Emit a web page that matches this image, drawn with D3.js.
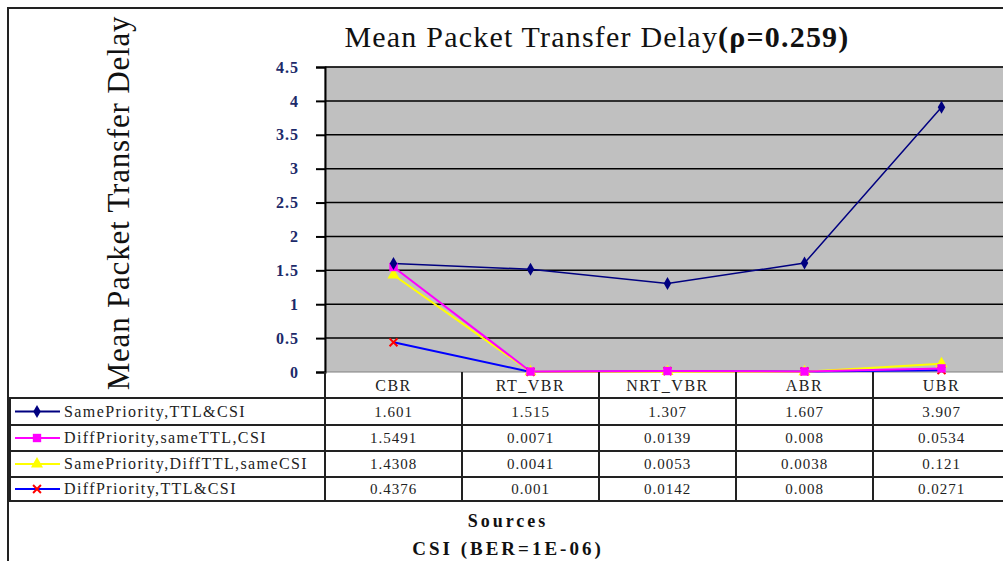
<!DOCTYPE html>
<html>
<head>
<meta charset="utf-8">
<script src="https://cdn.jsdelivr.net/npm/d3@7"></script>
<style>
  body { margin: 0; background: #fff; }
  svg text { font-family: "Liberation Serif", "Times New Roman", serif; }
</style>
</head>
<body>
<div id="chart-area"></div>
<script>
// data
var categories = ["CBR", "RT_VBR", "NRT_VBR", "ABR", "UBR"];
var seriesNames = ["SamePriority,TTL&CSI", "DiffPriority,sameTTL,CSI", "SamePriority,DiffTTL,sameCSI", "DiffPriority,TTL&CSI"];
var sameAll   = [1.601, 1.515, 1.307, 1.607, 3.907];
var diffPrio  = [1.5491, 0.0071, 0.0139, 0.008, 0.0534];
var diffTTL   = [1.4308, 0.0041, 0.0053, 0.0038, 0.121];
var diffAll   = [0.4376, 0.001, 0.0142, 0.008, 0.0271];
var yTicks = [0, 0.5, 1, 1.5, 2, 2.5, 3, 3.5, 4, 4.5];

var seriesValues = [sameAll, diffPrio, diffTTL, diffAll];
var lineColors = ["#000080", "#ff00ff", "#ffff00", "#0000ff"];
var markColors = ["#000080", "#ff00ff", "#ffff00", "#ff0000"];
var markTypes = ["diamond", "square", "triangle", "x"];

var width = 1003, height = 561;
var plot = { left: 325, right: 1010, top: 67, bottom: 372 };
var rowH = [398, 425, 451, 477, 501];

var svg = d3.select("#chart-area")
  .append("svg")
    .attr("width", width)
    .attr("height", height);

var x = d3.scaleBand()
  .domain(categories)
  .range([plot.left, plot.right]);

var y = d3.scaleLinear()
  .domain([0, 4.5])
  .range([plot.bottom, plot.top]);

// outer chart frame
svg.append("rect")
  .attr("x", 8).attr("y", 8)
  .attr("width", 1010).attr("height", 570)
  .attr("fill", "#fff")
  .attr("stroke", "#222").attr("stroke-width", 2);

// plot area
svg.append("rect")
  .attr("x", plot.left).attr("y", plot.top)
  .attr("width", plot.right - plot.left).attr("height", plot.bottom - plot.top)
  .attr("fill", "#c0c0c0")
  .attr("stroke", "#808080").attr("stroke-width", 1);

// gridlines
svg.append("g")
  .selectAll("line")
  .data(yTicks.filter(d => d > 0))
  .join("line")
    .attr("x1", plot.left).attr("x2", plot.right)
    .attr("y1", d => y(d)).attr("y2", d => y(d))
    .attr("stroke", "#000").attr("stroke-width", 1.5);

// y axis
var yAxis = svg.append("g")
  .attr("transform", "translate(" + plot.left + ",0)")
  .call(d3.axisLeft(y).tickValues(yTicks).tickSize(9).tickPadding(17).tickFormat(d3.format("")));
yAxis.select(".domain").attr("stroke", "#000").attr("stroke-width", 2);
yAxis.selectAll(".tick line").attr("stroke", "#000").attr("stroke-width", 2);
yAxis.selectAll(".tick text")
  .attr("font-size", 16)
  .attr("font-weight", "bold")
  .attr("letter-spacing", 1)
  .attr("fill", "#1c2a6a")
  .style("font-family", "'Liberation Serif', serif");

// lines
var line = d3.line()
  .x((d, i) => x(categories[i]) + x.bandwidth() / 2)
  .y(d => y(d));

var drawOrder = [3, 2, 1, 0];
drawOrder.forEach(function(s) {
  svg.append("path")
    .datum(seriesValues[s])
    .attr("fill", "none")
    .attr("stroke", lineColors[s])
    .attr("stroke-width", s === 0 ? 1.5 : 2)
    .attr("d", line);
});

function marker(g, type, color, size) {
  if (type === "diamond") {
    g.append("path").attr("d", d3.symbol(d3.symbolDiamond, size * 7)()).attr("fill", color);
  } else if (type === "square") {
    g.append("path").attr("d", d3.symbol(d3.symbolSquare, size * 10)()).attr("fill", color);
  } else if (type === "triangle") {
    g.append("path").attr("d", d3.symbol(d3.symbolTriangle, size * 9)()).attr("fill", color);
  } else {
    g.append("path").attr("d", d3.symbol(d3.symbolTimes, size * 6)())
      .attr("fill", "none").attr("stroke", color).attr("stroke-width", 2);
  }
}

drawOrder.forEach(function(s) {
  seriesValues[s].forEach(function(v, i) {
    var g = svg.append("g")
      .attr("transform", "translate(" + (x(categories[i]) + x.bandwidth() / 2) + "," + y(v) + ")");
    marker(g, markTypes[s], markColors[s], 7);
  });
});

// data table
var table = svg.append("g");
rowH.forEach(function(yy) {
  table.append("line")
    .attr("x1", 8).attr("x2", width)
    .attr("y1", yy).attr("y2", yy)
    .attr("stroke", "#222").attr("stroke-width", 2);
});
// column dividers
table.selectAll("line.col")
  .data(categories)
  .join("line")
    .attr("class", "col")
    .attr("x1", d => x(d)).attr("x2", d => x(d))
    .attr("y1", plot.bottom).attr("y2", rowH[4])
    .attr("stroke", "#222").attr("stroke-width", 2);
table.append("line")
  .attr("x1", 10).attr("x2", 10)
  .attr("y1", rowH[0]).attr("y2", rowH[4])
  .attr("stroke", "#222").attr("stroke-width", 2);

// category headers
table.selectAll("text.cat")
  .data(categories)
  .join("text")
    .attr("class", "cat")
    .attr("x", d => x(d) + x.bandwidth() / 2)
    .attr("y", plot.bottom + 19)
    .attr("text-anchor", "middle")
    .attr("font-size", 16)
    .attr("letter-spacing", 1.5)
    .attr("fill", "#222")
    .text(d => d);

// values + legend keys
seriesValues.forEach(function(vals, s) {
  var cy = (rowH[s] + rowH[s + 1]) / 2;
  table.append("line")
    .attr("x1", 15).attr("x2", 60)
    .attr("y1", cy).attr("y2", cy)
    .attr("stroke", lineColors[s]).attr("stroke-width", 2);
  var g = table.append("g").attr("transform", "translate(37," + cy + ")");
  marker(g, markTypes[s], markColors[s], 7);
  table.append("text")
    .attr("x", 64).attr("y", cy + 5)
    .attr("font-size", 16)
    .attr("letter-spacing", 1.4)
    .attr("fill", "#222")
    .text(seriesNames[s]);
  table.selectAll(null)
    .data(vals)
    .join("text")
      .attr("x", (d, i) => x(categories[i]) + x.bandwidth() / 2)
      .attr("y", cy + 5)
      .attr("text-anchor", "middle")
      .attr("font-size", 15)
      .attr("letter-spacing", 1)
      .attr("fill", "#222")
      .text(d => String(d));
});

// titles
var title = svg.append("text")
  .attr("x", 597).attr("y", 47)
  .attr("text-anchor", "middle")
  .attr("font-size", 30)
  .attr("letter-spacing", 1.2)
  .attr("fill", "#111");
title.append("tspan").text("Mean Packet Transfer Delay");
title.append("tspan").attr("font-weight", "bold").text("(ρ=0.259)");

svg.append("text")
  .attr("transform", "translate(129,203) rotate(-90)")
  .attr("text-anchor", "middle")
  .attr("font-size", 31)
  .attr("letter-spacing", 0.8)
  .attr("fill", "#111")
  .text("Mean Packet Transfer Delay");

svg.append("text")
  .attr("x", 508).attr("y", 527)
  .attr("text-anchor", "middle")
  .attr("font-size", 18)
  .attr("font-weight", "bold")
  .attr("letter-spacing", 3)
  .attr("fill", "#111")
  .text("Sources");

svg.append("text")
  .attr("x", 508).attr("y", 555)
  .attr("text-anchor", "middle")
  .attr("font-size", 19)
  .attr("font-weight", "bold")
  .attr("letter-spacing", 3)
  .attr("fill", "#111")
  .text("CSI (BER=1E-06)");
</script>
</body>
</html>
